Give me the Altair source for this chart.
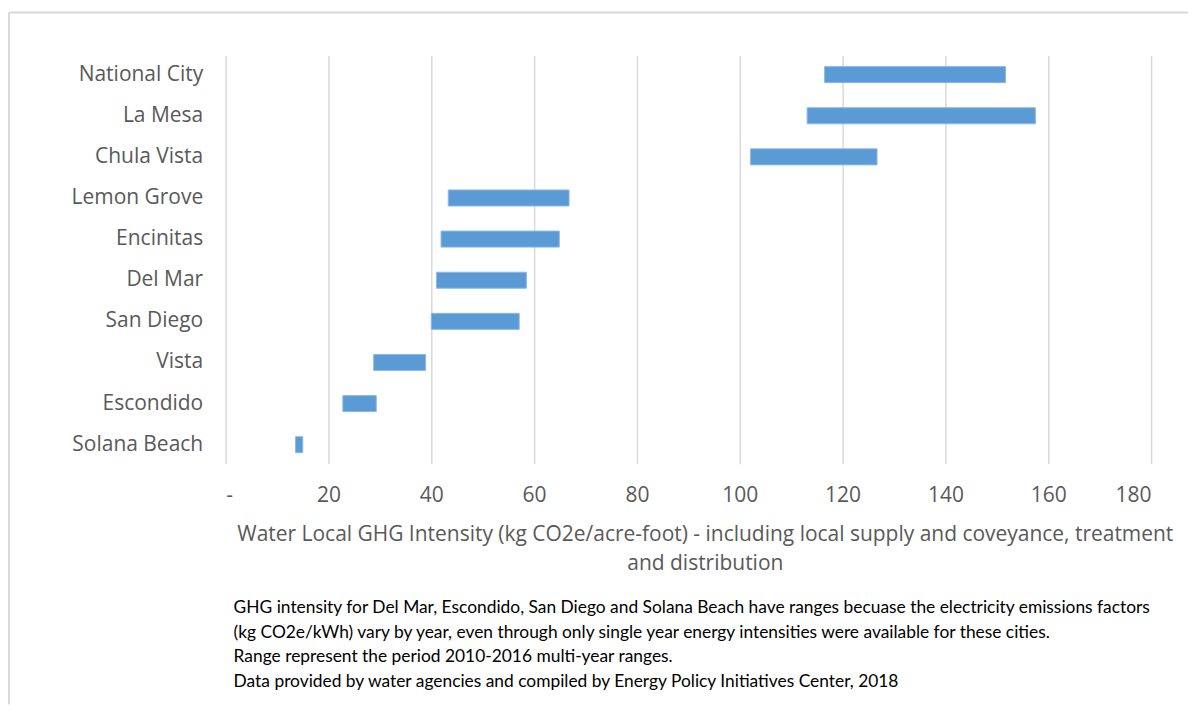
import altair as alt
import pandas as pd

cities = ["National City", "La Mesa", "Chula Vista", "Lemon Grove", "Encinitas",
          "Del Mar", "San Diego", "Vista", "Escondido", "Solana Beach"]
low = [116.5, 113.1, 102.1, 43.3, 41.9, 41.0, 40.0, 28.8, 22.8, 13.6]
high = [151.7, 157.5, 126.7, 66.8, 64.9, 58.5, 57.1, 38.9, 29.3, 15.0]
x_ticks = [0, 20, 40, 60, 80, 100, 120, 140, 160, 180]

x_title = ["Water Local GHG Intensity (kg CO2e/acre-foot) - including local supply and coveyance, treatment",
           "and distribution"]
notes = [
    "GHG intensity for Del Mar, Escondido, San Diego and Solana Beach have ranges becuase the electricity emissions factors",
    "(kg CO2e/kWh) vary by year, even through only single year energy intensities were available for these cities.",
    "Range represent the period 2010-2016 multi-year ranges.",
    "Data provided by water agencies and compiled by Energy Policy Initiatives Center, 2018",
]

AX_FONT = "Open Sans"
NOTE_FONT = "Lato"
df = pd.DataFrame({"city": cities, "low": low, "high": high})

bars = alt.Chart(df).mark_bar(color="#5B9BD5", stroke="#8DB9E3", strokeWidth=1).encode(
    y=alt.Y("city:N", sort=cities,
            scale=alt.Scale(paddingInner=0.61, paddingOuter=0.27),
            axis=alt.Axis(title=None, domain=False, ticks=False, grid=False,
                          labelFontSize=21, labelColor="#595959", labelFont=AX_FONT,
                          labelPadding=23)),
    x=alt.X("low:Q", scale=alt.Scale(domain=[0, 180], nice=False),
            axis=alt.Axis(values=x_ticks, title=x_title, domain=False, ticks=False,
                          grid=True, gridColor="#D9D9D9", gridWidth=1.5,
                          labelFontSize=21, labelColor="#595959", labelFont=AX_FONT,
                          labelPadding=21,
                          labelExpr="datum.value == 0 ? '-' : datum.label",
                          titleFontSize=21, titleColor="#595959", titleFont=AX_FONT,
                          titleFontWeight="normal", titlePadding=18,
                          titleX=480, titleAlign="center", titleLineHeight=29)),
    x2="high:Q",
)

border_data = alt.Data(values=[{"a": 1}])
top_line = alt.Chart(border_data).mark_rule(color="#D9D9D9", strokeWidth=2).encode(
    x=alt.value(-217), x2=alt.value(964), y=alt.value(-43))
left_line = alt.Chart(border_data).mark_rule(color="#D9D9D9", strokeWidth=2).encode(
    x=alt.value(-217), y=alt.value(-43), y2=alt.value(650))

footnote = alt.Chart(border_data).mark_text(
    text=notes, align="left", baseline="middle", lineHeight=25,
    font=NOTE_FONT, fontSize=17.4, color="#000000").encode(
    x=alt.value(8), y=alt.value(553))

chart = alt.layer(bars, top_line, left_line, footnote).properties(
    width=927, height=409, background="white",
    padding={"left": 0, "top": 3, "right": 0, "bottom": 0},
).configure_view(strokeWidth=0, stroke="transparent")

chart.save("out.html", embed_options={"renderer": "svg", "actions": False})
